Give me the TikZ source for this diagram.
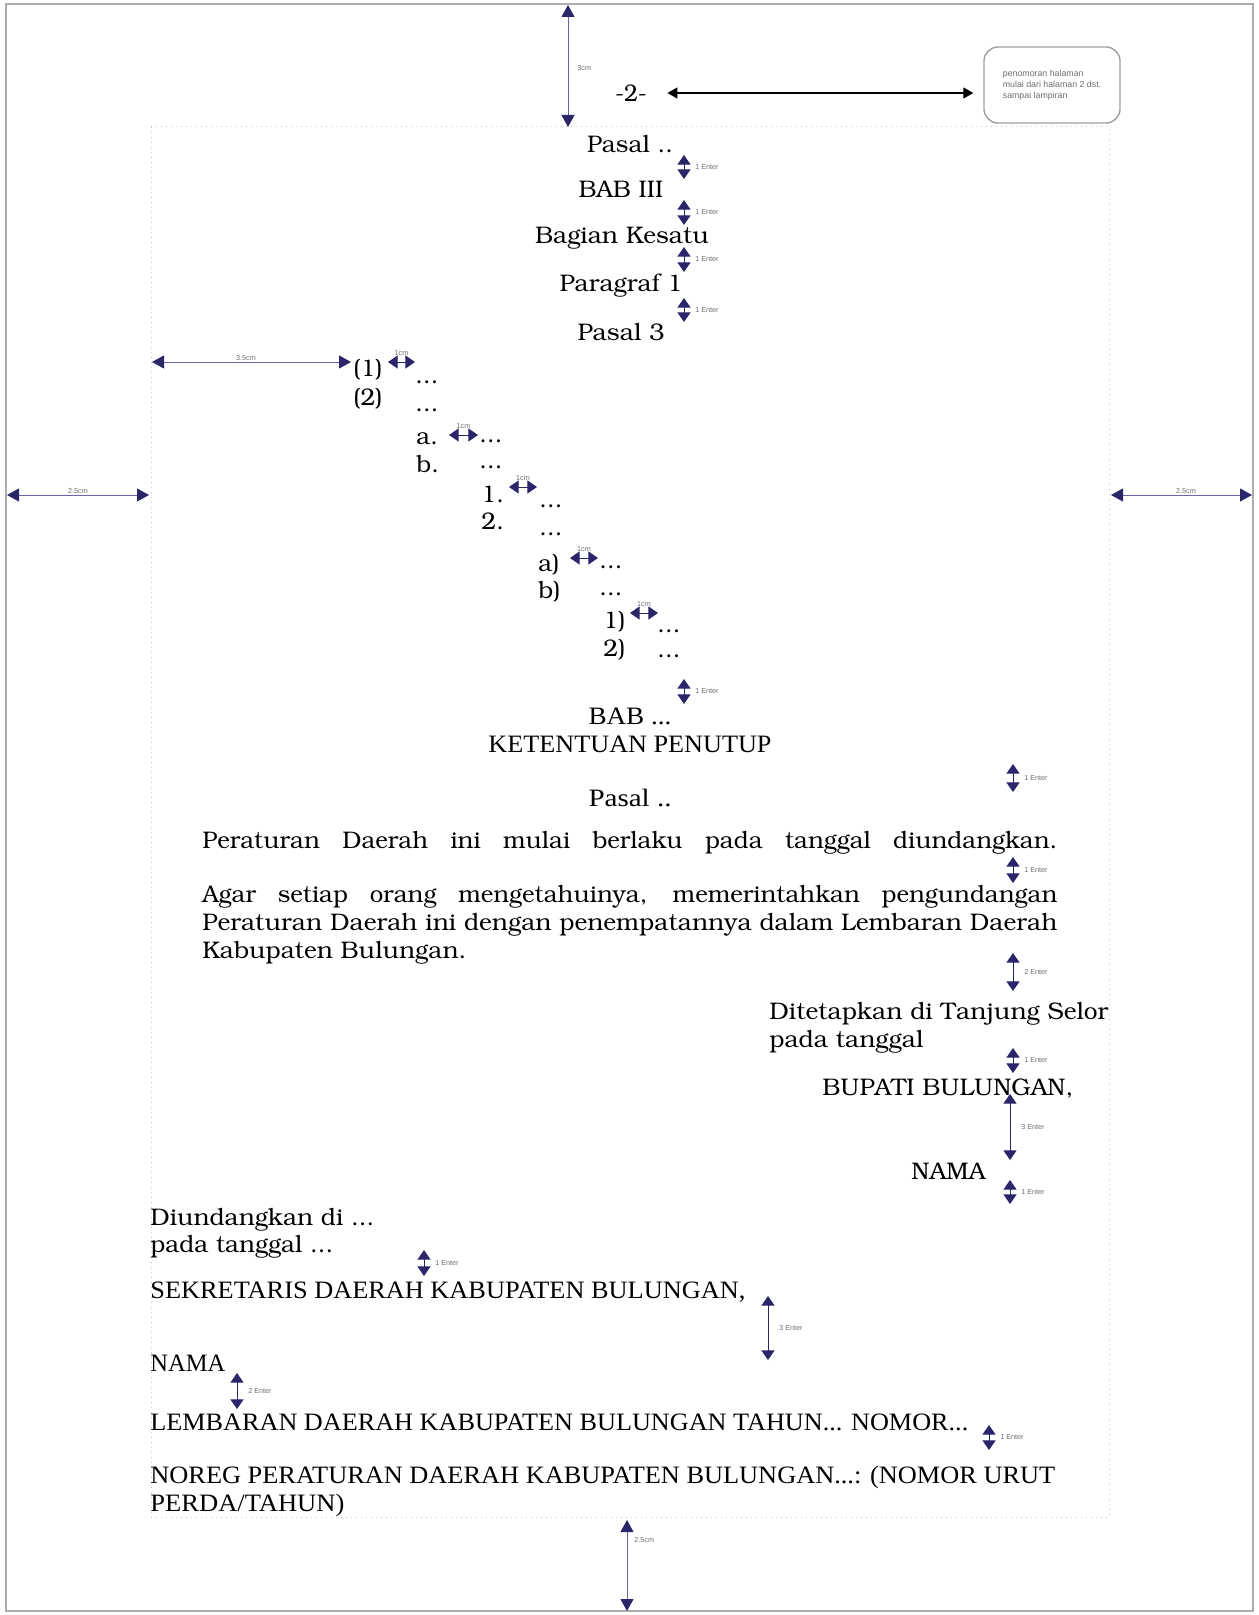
\documentclass[tikz,border=0pt]{standalone}
\usepackage[T1]{fontenc}
\usepackage{fontspec}
\setmainfont{Liberation Serif}
\newfontfamily\lsans{Liberation Sans}
\usepackage{graphicx}
\usetikzlibrary{arrows.meta}
\newdimen\pxu \pxu=0.5pt
\newcommand\bk{\usefont{T1}{pbk}{m}{n}}
\newcommand\fitw[2]{\resizebox{#1\pxu}{\height}{#2}}
\definecolor{navy}{RGB}{43,38,105}
\definecolor{dimline}{RGB}{110,100,170}
\definecolor{lblc}{RGB}{110,110,110}
\newcommand\venter[5]{%
  \coordinate (#1a) at (#2,#3); \coordinate (#1b) at (#2,#4);
  \draw[smalldim] (#1a) -- (#1b);
  \node[dimlbl,anchor=west] (#1l) at (#2+11,{(#3+#4)/2}) {#5};}
\newcommand\hcm[4]{%
  \coordinate (#1a) at (#2,#4); \coordinate (#1b) at (#3,#4);
  \draw[smalldim] (#1a) -- (#1b);
  \node[dimlbl,anchor=south] (#1l) at ({(#2+#3)/2},#4-6) {1cm};}
\begin{document}
\begin{tikzpicture}[x=0.5pt,y=-0.5pt,
  bkt/.style={inner sep=0pt,anchor=base,font=\bk\fontsize{12}{14}\selectfont},
  tmt/.style={inner sep=0pt,anchor=base,font=\fontsize{12.5}{14}\selectfont},
  dimlbl/.style={inner sep=0pt,font=\lsans\fontsize{3.6}{4}\selectfont,text=lblc},
  smalldim/.style={draw=navy,line width=0.5pt,{Triangle[width=6.5pt,length=4.8pt]}-{Triangle[width=6.5pt,length=4.8pt]}},
  longdim/.style={draw=dimline,line width=0.5pt,{Triangle[width=6.5pt,length=6pt,color=navy]}-{Triangle[width=6.5pt,length=6pt,color=navy]}},
  blackdim/.style={draw=black,line width=0.6pt,{Triangle[width=5.5pt,length=5pt]}-{Triangle[width=5.5pt,length=5pt]}},
  notebox/.style={draw=gray!75,line width=0.7pt,rounded corners=7pt,minimum width=68pt,minimum height=38pt,inner sep=4pt,align=left,font=\lsans\fontsize{4.4}{5.6}\selectfont,text=lblc}
]
\useasboundingbox (0,0) rectangle (1258,1615);
% page frame and margins
\draw[gray!65,line width=1pt] (6,4) rectangle (1253,1611);
\draw[gray!45,dotted,line width=0.5pt] (151,127) rectangle (1109,1517);

% header
\node[bkt] (pg) at (631,102) {\fitw{32}{-2-}};
\node[notebox] (note) at (1052,85) {penomoran halaman\\mulai dari halaman 2 dst.\\sampai lampiran};
\coordinate (arrowy) at (0,93);
\draw[blackdim,shorten <=10pt,shorten >=5pt] (pg.east |- arrowy) -- (note.west |- arrowy);

% margin dimensions
\coordinate (t3a) at (568,5); \coordinate (t3b) at (568,127);
\draw[longdim] (t3a) -- (t3b);
\node[dimlbl,anchor=west] (t3l) at (577,68) {3cm};
\coordinate (l35a) at (152,362); \coordinate (l35b) at (351,362);
\draw[longdim] (l35a) -- (l35b);
\node[dimlbl,anchor=south] (l35l) at (246,361) {3.5cm};
\coordinate (lma) at (7,495); \coordinate (lmb) at (149,495);
\draw[longdim] (lma) -- (lmb);
\node[dimlbl,anchor=south] (lml) at (78,494) {2.5cm};
\coordinate (rma) at (1111,495); \coordinate (rmb) at (1252,495);
\draw[longdim] (rma) -- (rmb);
\node[dimlbl,anchor=south] (rml) at (1186,494) {2.5cm};
\coordinate (bma) at (627,1520); \coordinate (bmb) at (627,1611);
\draw[longdim] (bma) -- (bmb);
\node[dimlbl,anchor=west] (bml) at (634,1540) {2.5cm};

% headings
\node[bkt] (pasalA) at (630,153) {\fitw{86}{Pasal ..}};
\node[bkt] (bab3) at (621,198) {\fitw{85}{BAB III}};
\node[bkt] (bagian) at (622,244) {\fitw{174}{Bagian Kesatu}};
\node[bkt] (parag) at (621,292) {\fitw{123}{Paragraf 1}};
\node[bkt] (pasal3) at (621,341) {\fitw{87}{Pasal 3}};
\venter{e1}{684}{155}{179}{1 Enter}
\venter{e2}{684}{200}{225}{1 Enter}
\venter{e3}{684}{247}{272}{1 Enter}
\venter{e4}{684}{298}{322}{1 Enter}

% list
\node[bkt,anchor=base west] (i1) at (353,376) {(1)};
\node[bkt,anchor=base west] (d1) at (415,383) {...};
\node[bkt,anchor=base west] (i2) at (353,405) {(2)};
\node[bkt,anchor=base west] (d2) at (415,411) {...};
\node[bkt,anchor=base west] (ia) at (416,444) {a.};
\node[bkt,anchor=base west] (da) at (479,442) {...};
\node[bkt,anchor=base west] (ib) at (416,472) {b.};
\node[bkt,anchor=base west] (db) at (479,468) {...};
\node[bkt,anchor=base west] (n1) at (481,502) {1.};
\node[bkt,anchor=base west] (dn1) at (539,507) {...};
\node[bkt,anchor=base west] (n2) at (481,529) {2.};
\node[bkt,anchor=base west] (dn2) at (539,535) {...};
\node[bkt,anchor=base west] (pa) at (538,571) {a)};
\node[bkt,anchor=base west] (dpa) at (599,568) {...};
\node[bkt,anchor=base west] (pb) at (538,598) {b)};
\node[bkt,anchor=base west] (dpb) at (599,595) {...};
\node[bkt,anchor=base west] (q1) at (603,628) {1)};
\node[bkt,anchor=base west] (dq1) at (657,632) {...};
\node[bkt,anchor=base west] (q2) at (603,656) {2)};
\node[bkt,anchor=base west] (dq2) at (657,657) {...};
\hcm{h1}{388}{415}{362}
\hcm{h2}{449}{478}{435}
\hcm{h3}{509}{537}{487}
\hcm{h4}{570}{598}{558}
\hcm{h5}{630}{658}{613}

% closing
\venter{e5}{684}{679}{704}{1 Enter}
\node[tmt] (babx) at (630,724) {\fitw{83}{BAB ...}};
\node[tmt] (ketentuan) at (630,752) {\fitw{283}{KETENTUAN PENUTUP}};
\venter{e6}{1013}{764}{792}{1 Enter}
\node[tmt] (pasalB) at (630,806) {\fitw{83}{Pasal ..}};
\node[bkt,anchor=base west] (p1) at (202,848) {\makebox[855\pxu][s]{Peraturan Daerah ini mulai berlaku pada tanggal diundangkan.}};
\venter{e7}{1013}{857}{883}{1 Enter}
\node[bkt,anchor=base west] (p2) at (202,902) {\makebox[855\pxu][s]{Agar setiap orang mengetahuinya, memerintahkan pengundangan}};
\node[bkt,anchor=base west] (p3) at (202,930) {\fitw{855}{Peraturan Daerah ini dengan penempatannya dalam Lembaran Daerah}};
\node[bkt,anchor=base west] (p4) at (202,958) {\fitw{264}{Kabupaten Bulungan.}};
\venter{e8}{1013}{953}{991}{2 Enter}

% signature
\node[bkt,anchor=base west] (ditet) at (769,1019) {\fitw{339}{Ditetapkan di Tanjung Selor}};
\node[bkt,anchor=base west] (padat) at (769,1047) {\fitw{154}{pada tanggal}};
\venter{e9}{1013}{1048}{1073}{1 Enter}
\node[bkt,anchor=base west] (bupati) at (822,1095) {\fitw{251}{BUPATI BULUNGAN,}};
\venter{e10}{1010}{1094}{1160}{3 Enter}
\node[bkt,anchor=base west] (nama1) at (911,1179) {\fitw{74}{NAMA}};
\venter{e11}{1010}{1180}{1204}{1 Enter}

% promulgation
\node[bkt,anchor=base west] (diund) at (150,1225) {\fitw{224}{Diundangkan di ...}};
\node[bkt,anchor=base west] (padat2) at (150,1252) {\fitw{183}{pada tanggal ...}};
\venter{e12}{424}{1250}{1276}{1 Enter}
\node[tmt,anchor=base west] (sekda) at (150,1298) {\fitw{595}{SEKRETARIS DAERAH KABUPATEN BULUNGAN,}};
\venter{e13}{768}{1296}{1360}{3 Enter}
\node[tmt,anchor=base west] (nama2) at (150,1371) {\fitw{75}{NAMA}};
\venter{e14}{237}{1373}{1409}{2 Enter}
\node[tmt,anchor=base west] (lemb) at (150,1430) {\fitw{818}{LEMBARAN DAERAH KABUPATEN BULUNGAN TAHUN... NOMOR...}};
\venter{e15}{989}{1425}{1450}{1 Enter}
\node[tmt,anchor=base west] (noreg) at (150,1483) {\fitw{905}{NOREG PERATURAN DAERAH KABUPATEN BULUNGAN...: (NOMOR URUT}};
\node[tmt,anchor=base west] (perda) at (150,1511) {\fitw{194}{PERDA/TAHUN)}};
\end{tikzpicture}
\end{document}
